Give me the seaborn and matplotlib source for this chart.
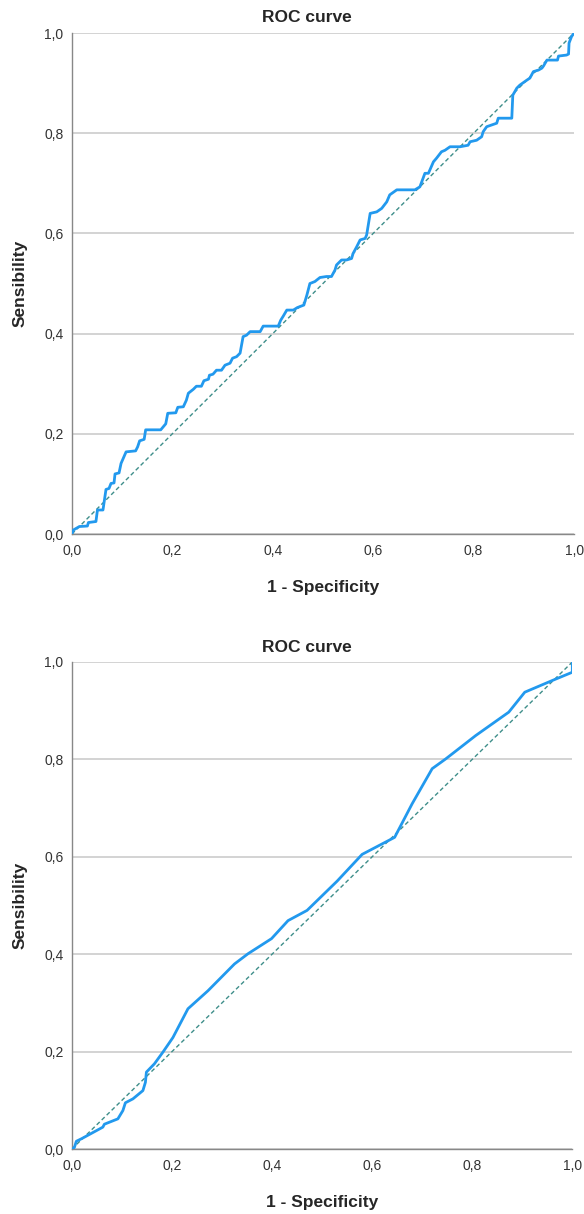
import matplotlib
matplotlib.use("Agg")
import matplotlib.pyplot as plt
import seaborn as sns
import pandas as pd
from matplotlib.ticker import FuncFormatter

# ROC 1 (step-like curve)
fpr_1 = [0.0, 0.003, 0.015, 0.031, 0.033, 0.048, 0.051, 0.062, 0.068, 0.074, 0.078,
         0.084, 0.086, 0.094, 0.098, 0.108, 0.127, 0.131, 0.135, 0.144, 0.147, 0.177,
         0.187, 0.191, 0.207, 0.211, 0.222, 0.228, 0.232, 0.242, 0.248, 0.258, 0.263,
         0.272, 0.274, 0.281, 0.288, 0.298, 0.305, 0.315, 0.320, 0.328, 0.335, 0.341,
         0.348, 0.355, 0.375, 0.381, 0.411, 0.416, 0.421, 0.428, 0.441, 0.449, 0.462,
         0.468, 0.474, 0.484, 0.494, 0.507, 0.517, 0.524, 0.527, 0.537, 0.547, 0.557,
         0.560, 0.567, 0.574, 0.584, 0.587, 0.594, 0.607, 0.617, 0.627, 0.633, 0.647,
         0.683, 0.693, 0.703, 0.710, 0.720, 0.726, 0.736, 0.743, 0.753, 0.773, 0.789,
         0.793, 0.806, 0.816, 0.819, 0.826, 0.846, 0.849, 0.876, 0.878, 0.886, 0.892,
         0.899, 0.906, 0.912, 0.919, 0.929, 0.936, 0.939, 0.946, 0.967, 0.969, 0.985,
         0.989, 0.990, 0.995, 1.0]
tpr_1 = [0.0, 0.008, 0.015, 0.016, 0.023, 0.025, 0.048, 0.048, 0.089, 0.091, 0.101,
         0.102, 0.120, 0.122, 0.141, 0.164, 0.166, 0.174, 0.186, 0.189, 0.208, 0.208,
         0.220, 0.241, 0.242, 0.253, 0.254, 0.267, 0.281, 0.289, 0.295, 0.295, 0.306,
         0.309, 0.317, 0.319, 0.327, 0.327, 0.337, 0.341, 0.351, 0.354, 0.361, 0.394,
         0.397, 0.404, 0.404, 0.415, 0.415, 0.427, 0.435, 0.447, 0.447, 0.452, 0.457,
         0.477, 0.500, 0.504, 0.512, 0.514, 0.514, 0.527, 0.537, 0.547, 0.547, 0.550,
         0.560, 0.573, 0.587, 0.590, 0.597, 0.640, 0.643, 0.650, 0.663, 0.677, 0.687,
         0.687, 0.693, 0.720, 0.720, 0.743, 0.750, 0.763, 0.766, 0.773, 0.773, 0.776,
         0.783, 0.786, 0.793, 0.803, 0.813, 0.820, 0.830, 0.830, 0.876, 0.890, 0.896,
         0.901, 0.906, 0.910, 0.923, 0.926, 0.930, 0.934, 0.946, 0.946, 0.954, 0.956,
         0.958, 0.980, 0.993, 1.0]

# ROC 2 (smoother curve)
fpr_2 = [0.0, 0.005, 0.009, 0.019, 0.062, 0.065, 0.092, 0.102, 0.107, 0.122, 0.142,
         0.147, 0.149, 0.165, 0.182, 0.202, 0.232, 0.272, 0.325, 0.352, 0.399, 0.432,
         0.47, 0.53, 0.58, 0.645, 0.68, 0.72, 0.747, 0.807, 0.873, 0.905, 0.96, 1.0, 1.0]
tpr_2 = [0.0, 0.003, 0.016, 0.021, 0.045, 0.051, 0.062, 0.079, 0.095, 0.103, 0.120,
         0.137, 0.158, 0.175, 0.199, 0.229, 0.288, 0.325, 0.380, 0.401, 0.432, 0.469,
         0.49, 0.55, 0.605, 0.64, 0.709, 0.781, 0.801, 0.849, 0.897, 0.938, 0.962, 0.979, 1.0]

ref_line = [0.0, 1.0]
ticks = [0.0, 0.2, 0.4, 0.6, 0.8, 1.0]

curve_color = "#2299EE"
diag_color = "#3E8E8A"

sns.set_theme(style="white")
plt.rcParams['font.family'] = ['Liberation Sans', 'DejaVu Sans']

fig = plt.figure(figsize=(5.84, 12.14), dpi=100)
ax1 = fig.add_axes([0.123, 0.5601, 0.860, 0.4127])
ax2 = fig.add_axes([0.123, 0.0535, 0.857, 0.4012])

comma = FuncFormatter(lambda v, pos: f"{v:.1f}".replace(".", ","))


def draw_roc(ax, fpr, tpr):
    df = pd.DataFrame({"fpr": fpr, "tpr": tpr})
    sns.lineplot(data=df, x="fpr", y="tpr", ax=ax, sort=False, estimator=None,
                 color=curve_color, linewidth=2.0, zorder=3)
    sns.lineplot(x=ref_line, y=ref_line, ax=ax, color=diag_color,
                 linewidth=1.0, linestyle=(0, (3, 2)), zorder=2)
    ax.set_xlim(0, 1)
    ax.set_ylim(0, 1)
    ax.set_xticks(ticks)
    ax.set_yticks(ticks)
    ax.xaxis.set_major_formatter(comma)
    ax.yaxis.set_major_formatter(comma)
    ax.tick_params(axis="both", labelsize=10, colors="#333333", length=0)
    ax.tick_params(axis="x", pad=7)
    ax.tick_params(axis="y", pad=6)
    ax.yaxis.grid(True, color="#cccccc", linewidth=1.2)
    ax.xaxis.grid(False)
    ax.set_axisbelow(True)
    for side in ["top", "right"]:
        ax.spines[side].set_visible(False)
    for side in ["left", "bottom"]:
        ax.spines[side].set_color("#888888")
        ax.spines[side].set_linewidth(1.0)
    ax.set_xlabel("1 - Specificity", fontsize=12.5, fontweight="bold", labelpad=16)
    ax.set_ylabel("Sensibility", fontsize=12.5, fontweight="bold", labelpad=12)


draw_roc(ax1, fpr_1, tpr_1)
draw_roc(ax2, fpr_2, tpr_2)

fig.text(0.526, 1 - 18 / 1214, "ROC curve", ha="center", va="center",
         fontsize=12.5, fontweight="bold")
fig.text(0.526, 1 - 647 / 1214, "ROC curve", ha="center", va="center",
         fontsize=12.5, fontweight="bold")

fig.savefig("out.png", dpi=100, facecolor="white")
